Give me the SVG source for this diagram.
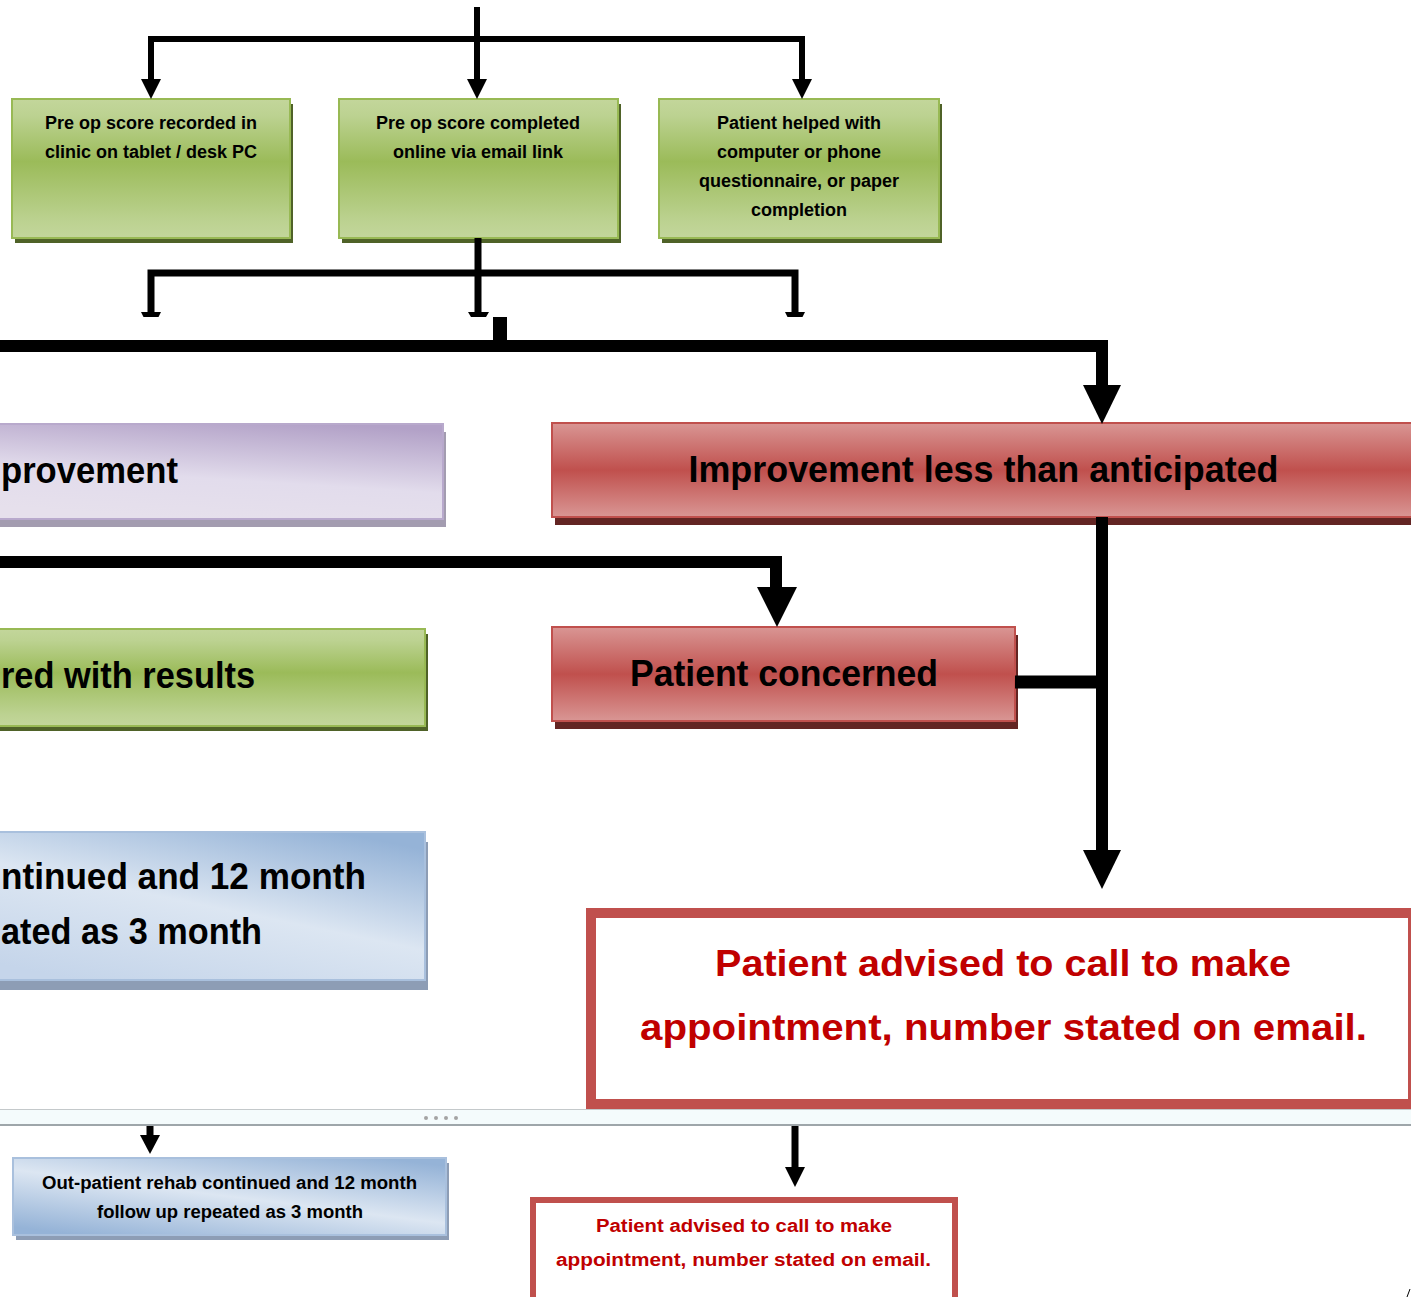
<svg xmlns="http://www.w3.org/2000/svg" width="1411" height="1297" viewBox="0 0 1411 1297">
<defs>
<linearGradient id="gGreen" x1="0" y1="0" x2="0" y2="1">
<stop offset="0" stop-color="#c3d69b"/><stop offset="0.12" stop-color="#bcd291"/><stop offset="0.45" stop-color="#9bbb59"/><stop offset="0.88" stop-color="#bcd291"/><stop offset="1" stop-color="#c3d69b"/>
</linearGradient>
<linearGradient id="gRed" x1="0" y1="0" x2="0" y2="1">
<stop offset="0" stop-color="#d99694"/><stop offset="0.5" stop-color="#c0504d"/><stop offset="1" stop-color="#d99694"/>
</linearGradient>
<linearGradient id="gPurple" x1="0.75" y1="0" x2="0.45" y2="1">
<stop offset="0" stop-color="#b2a1c7"/><stop offset="0.6" stop-color="#e2dcec"/><stop offset="1" stop-color="#e6e0ec"/>
</linearGradient>
<linearGradient id="gBlue" x1="0.8" y1="0" x2="0.2" y2="1">
<stop offset="0" stop-color="#95b3d7"/><stop offset="0.5" stop-color="#dce6f2"/><stop offset="1" stop-color="#c5d5ea"/>
</linearGradient>
<linearGradient id="gBlue2" x1="0.85" y1="0" x2="0.15" y2="1">
<stop offset="0" stop-color="#95b3d7"/><stop offset="0.5" stop-color="#dce6f2"/><stop offset="1" stop-color="#95b3d7"/>
</linearGradient>
<style>
.txt{font-family:"Liberation Sans",Arial,sans-serif;font-weight:bold;fill:#000}
.sm{font-size:18px;text-anchor:middle}
.big{font-size:36px}
.red{fill:#c00000}
.mid{text-anchor:middle}
.gbox{fill:url(#gGreen);stroke:#98b954;stroke-width:2}
.gsh{fill:#4f6228}
.rbox{fill:url(#gRed);stroke:#c0504d;stroke-width:2}
.rsh{fill:#632523}
.pbox{fill:url(#gPurple);stroke:#b8a9cc;stroke-width:2}
.psh{fill:#a39cb0}
.bbox{fill:url(#gBlue);stroke:#a9c0dd;stroke-width:2}
.bsh{fill:#8d9db5}
.obox{fill:#fff;stroke:#c0504d}
.ln{fill:none;stroke:#000;stroke-linejoin:miter}
.ah{fill:#000}
</style>
</defs>
<rect width="1411" height="1297" fill="#fff"/>

<g id="nodes">
<g id="n-clinic">
<rect class="gsh" x="15" y="104" width="278" height="139"/>
<rect class="gbox" x="12" y="99" width="278" height="139"/>
<text class="txt sm" x="151" y="129">Pre op score recorded in</text>
<text class="txt sm" x="151" y="158">clinic on tablet / desk PC</text>
</g>
<g id="n-online">
<rect class="gsh" x="342" y="104" width="279" height="139"/>
<rect class="gbox" x="339" y="99" width="279" height="139"/>
<text class="txt sm" x="478" y="129">Pre op score completed</text>
<text class="txt sm" x="478" y="158">online via email link</text>
</g>
<g id="n-helped">
<rect class="gsh" x="662" y="104" width="280" height="139"/>
<rect class="gbox" x="659" y="99" width="280" height="139"/>
<text class="txt sm" x="799" y="129">Patient helped with</text>
<text class="txt sm" x="799" y="158">computer or phone</text>
<text class="txt sm" x="799" y="187">questionnaire, or paper</text>
<text class="txt sm" x="799" y="216">completion</text>
</g>
<g id="n-improvement">
<rect class="psh" x="-7" y="432" width="453" height="95"/>
<rect class="pbox" x="-10" y="424" width="453" height="95"/>
<text class="txt big" x="1" y="483" textLength="177" lengthAdjust="spacingAndGlyphs">provement</text>
</g>
<g id="n-less">
<rect class="rsh" x="555" y="431" width="900" height="94"/>
<rect class="rbox" x="552" y="423" width="900" height="94"/>
<text class="txt big mid" x="983.5" y="482" textLength="590" lengthAdjust="spacingAndGlyphs">Improvement less than anticipated</text>
</g>
<g id="n-satisfied">
<rect class="gsh" x="-7" y="634" width="435" height="97"/>
<rect class="gbox" x="-10" y="629" width="435" height="97"/>
<text class="txt big" x="1" y="688" textLength="254" lengthAdjust="spacingAndGlyphs">red with results</text>
</g>
<g id="n-concerned">
<rect class="rsh" x="555" y="635" width="463" height="94"/>
<rect class="rbox" x="552" y="627" width="463" height="94"/>
<text class="txt big mid" x="784" y="686" textLength="308" lengthAdjust="spacingAndGlyphs">Patient concerned</text>
</g>
<g id="n-rehab">
<rect class="bsh" x="-7" y="842" width="435" height="148"/>
<rect class="bbox" x="-10" y="832" width="435" height="148"/>
<text class="txt big" x="1" y="889" textLength="365" lengthAdjust="spacingAndGlyphs">ntinued and 12 month</text>
<text class="txt big" x="1" y="944" textLength="261" lengthAdjust="spacingAndGlyphs">ated as 3 month</text>
</g>
<g id="n-advised">
<rect class="obox" x="591" y="913" width="822" height="191" stroke-width="10"/>
<text class="txt big red mid" x="1003" y="976" textLength="576" lengthAdjust="spacingAndGlyphs">Patient advised to call to make</text>
<text class="txt big red mid" x="1003.5" y="1040" textLength="727" lengthAdjust="spacingAndGlyphs">appointment, number stated on email.</text>
</g>
</g>

<g id="divider">
<rect x="0" y="1109" width="1411" height="16" fill="#f4fbfc"/>
<line x1="0" y1="1109.5" x2="1411" y2="1109.5" stroke="#c4c9cb" stroke-width="1"/>
<line x1="0" y1="1125" x2="1411" y2="1125" stroke="#9ea6aa" stroke-width="2"/>
<circle cx="426" cy="1118" r="2" fill="#a3a3a3"/>
<circle cx="436" cy="1118" r="2" fill="#a3a3a3"/>
<circle cx="446" cy="1118" r="2" fill="#a3a3a3"/>
<circle cx="456" cy="1118" r="2" fill="#a3a3a3"/>
</g>

<g id="nodes-bottom">
<g id="n-rehab-small">
<rect class="bsh" x="16" y="1163" width="433" height="77"/>
<rect class="bbox" x="13" y="1158" width="433" height="77" style="fill:url(#gBlue2)"/>
<text class="txt sm" x="229.5" y="1189" textLength="375" lengthAdjust="spacingAndGlyphs">Out-patient rehab continued and 12 month</text>
<text class="txt sm" x="230" y="1218" textLength="266" lengthAdjust="spacingAndGlyphs">follow up repeated as 3 month</text>
</g>
<g id="n-advised-small">
<rect class="obox" x="533" y="1200" width="422" height="130" stroke-width="6"/>
<text class="txt sm red" x="744" y="1232" textLength="296" lengthAdjust="spacingAndGlyphs">Patient advised to call to make</text>
<text class="txt sm red" x="743.5" y="1266" textLength="375" lengthAdjust="spacingAndGlyphs">appointment, number stated on email.</text>
</g>
</g>

<g id="connectors">
<path class="ln" d="M477,7 V80" stroke-width="6"/>
<path class="ln" d="M151,80 V39 H802 V80" stroke-width="6"/>
<polygon class="ah" points="141,79 161,79 151,99"/>
<polygon class="ah" points="467,79 487,79 477,99"/>
<polygon class="ah" points="792,79 812,79 802,99"/>

<path class="ln" d="M478,238 V312" stroke-width="7"/>
<path class="ln" d="M151,312 V273 H795 V312" stroke-width="7"/>
<polygon class="ah" points="141,312 161,312 158.5,317 143.5,317"/>
<polygon class="ah" points="468,312 489,312 486,317 471,317"/>
<polygon class="ah" points="785,312 805,312 802.5,317 787.5,317"/>

<path class="ln" d="M500,317 V346" stroke-width="14"/>
<path class="ln" d="M-5,346 H1102 V386" stroke-width="12"/>
<polygon class="ah" points="1083,385 1121,385 1102,424"/>

<path class="ln" d="M-5,562 H776 V588" stroke-width="12"/>
<polygon class="ah" points="757,587 797,587 777,627"/>

<path class="ln" d="M1102,517 V851" stroke-width="12"/>
<polygon class="ah" points="1083,850 1121,850 1102,889"/>
<path class="ln" d="M1015,682 H1102" stroke-width="13"/>

<path class="ln" d="M150,1126 V1136" stroke-width="7"/>
<polygon class="ah" points="140,1135 160,1135 150,1154"/>
<path class="ln" d="M795,1126 V1168" stroke-width="7"/>
<polygon class="ah" points="785,1167 805,1167 795,1187"/>
</g>
<path d="M1407,1297 L1410,1289" stroke="#000" stroke-width="1" fill="none"/>
</svg>
